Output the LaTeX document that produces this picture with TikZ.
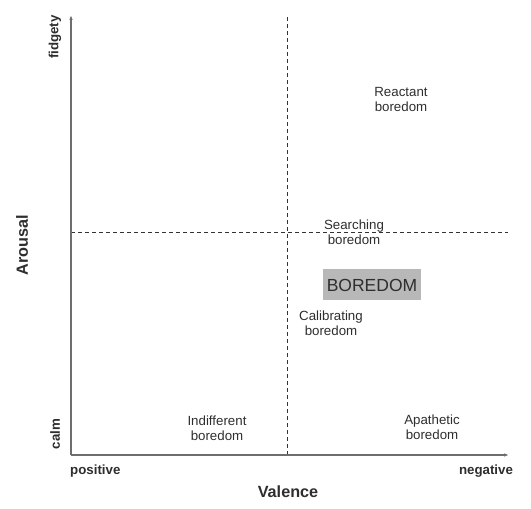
\documentclass[tikz,border=0pt]{standalone}
\usepackage{fontspec}
\setmainfont{Liberation Sans}
\usetikzlibrary{arrows.meta}
\definecolor{txt}{HTML}{2E2E2E}
\definecolor{axisc}{HTML}{6E6E6E}
\definecolor{boxc}{HTML}{B8B8B8}
\begin{document}
\begin{tikzpicture}[x=1pt,y=1pt,
  axisline/.style={draw=axisc,line width=1.2pt,-{Latex[length=5pt,width=3.5pt]}},
  divline/.style={draw=black!80,line width=0.75pt,dash pattern=on 4pt off 3pt},
  lbl/.style={text=txt,font=\fontsize{13.3}{15}\selectfont,align=center,inner sep=0pt},
  axlbl/.style={text=txt,font=\fontsize{13.3}{15}\selectfont\bfseries,inner sep=0pt},
  axtitle/.style={text=txt,font=\fontsize{16.2}{18}\selectfont\bfseries,inner sep=0pt}]
\useasboundingbox (0,0) rectangle (531,509);
\coordinate (o) at (71,54);
\coordinate (ytop) at (71,494);
\coordinate (xend) at (509,54);
\coordinate (vtop) at (287,494);
\coordinate (vbot) at (287,54);
\coordinate (hl) at (71,277);
\coordinate (hr) at (508,277);
\draw[divline] (vbot) -- (vtop);
\draw[divline] (hl) -- (hr);
\draw[axisline] (o) -- (ytop);
\draw[axisline] (o) -- (xend);
\node[axlbl,rotate=90] (fidgety) at (55,472) {fidgety};
\node[axlbl,rotate=90] (calm) at (55,75) {calm};
\node[axtitle,rotate=90] (arousal) at (22,264) {Arousal};
\node[axlbl,anchor=west] (positive) at (70,38) {positive};
\node[axlbl] (negative) at (486,38) {negative};
\node[axtitle] (valence) at (288,17) {Valence};
\node[lbl] (reactant) at (401,410) {Reactant\\boredom};
\node[lbl] (searching) at (354,277) {Searching\\boredom};
\node[fill=boxc,minimum width=98pt,minimum height=31pt,inner sep=0pt,text=txt,font=\fontsize{17.5}{19}\selectfont] (boredom) at (372,224) {BOREDOM};
\node[lbl] (calibrating) at (331,186) {Calibrating\\boredom};
\node[lbl] (indifferent) at (217,81) {Indifferent\\boredom};
\node[lbl] (apathetic) at (432,82) {Apathetic\\boredom};
\end{tikzpicture}
\end{document}
